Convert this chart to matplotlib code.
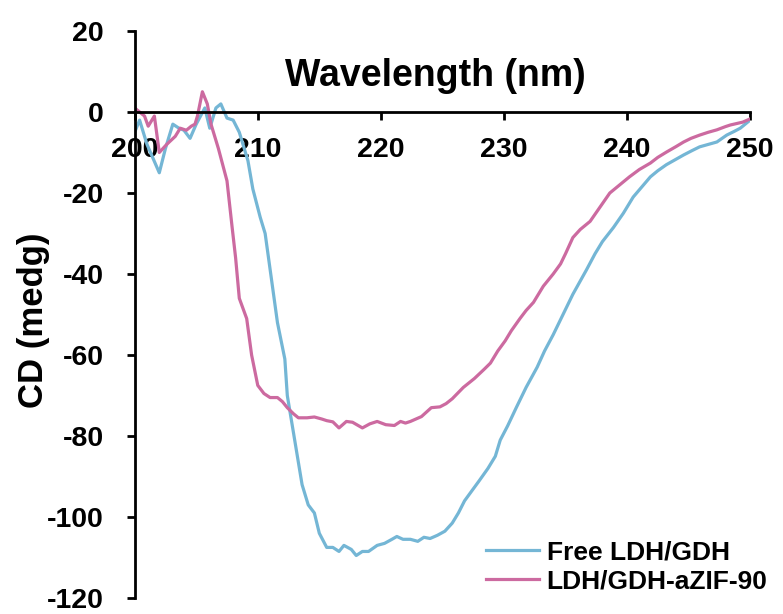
import matplotlib.pyplot as plt

plt.rcParams['font.family'] = ['Liberation Sans', 'DejaVu Sans']
plt.rcParams['font.weight'] = 'bold'
plt.rcParams['axes.unicode_minus'] = False

# CD spectrum of free enzymes
wl_free = [200.0, 200.4, 201.0, 202.0, 202.5, 203.1, 203.6, 204.0, 204.5, 205.0,
           205.7, 206.1, 206.6, 207.0, 207.5, 208.0, 208.5, 209.2, 209.6, 210.2,
           210.6, 211.1, 211.6, 212.2, 212.4, 213.0, 213.6, 214.1, 214.6, 215.0,
           215.6, 216.1, 216.6, 217.0, 217.6, 218.0, 218.5, 219.0, 219.7, 220.3,
           220.9, 221.3, 221.8, 222.4, 223.0, 223.5, 224.0, 224.6, 225.2, 225.8,
           226.3, 226.8, 227.4, 228.0, 228.7, 229.3, 229.7, 230.3, 231.0, 231.8,
           232.7, 233.3, 234.0, 234.8, 235.6, 236.7, 237.4, 238.0, 238.9, 239.7,
           240.5, 241.2, 241.9, 242.5, 243.2, 243.9, 244.6, 245.3, 245.9, 246.6,
           247.3, 248.1, 248.7, 249.2, 250.0]
cd_free = [-5, -2, -8, -15, -9, -3, -4, -4.5, -6.5, -3,
           1, -4, 1, 2, -1.5, -2, -5, -12, -19, -26,
           -30, -41, -52, -61, -70, -81, -92, -97, -99, -104,
           -107.5, -107.5, -108.5, -107, -108, -109.5, -108.5, -108.5, -107, -106.5,
           -105.5, -104.8, -105.5, -105.5, -106, -105, -105.3, -104.5, -103.5, -101.5,
           -99, -96, -93.5, -91, -88, -85, -81, -77.5, -73, -68,
           -63, -59, -55, -50, -45, -39, -35, -32, -28.5, -25,
           -21, -18.5, -16, -14.5, -13, -11.8, -10.6, -9.5, -8.6, -8,
           -7.4, -5.7, -4.8, -4, -2]

# CD spectrum of enzymes in aZIF-90
wl_zif = [200.0, 200.8, 201.1, 201.6, 202.0, 202.6, 203.3, 203.7, 204.2, 204.6,
          204.9, 205.1, 205.5, 205.9, 206.2, 206.8, 207.5, 207.9, 208.2, 208.5,
          209.1, 209.5, 210.0, 210.5, 211.0, 211.6, 212.0, 212.4, 212.9, 213.3,
          214.0, 214.6, 215.2, 215.6, 216.1, 216.6, 217.2, 217.7, 218.5, 219.1,
          219.7, 220.4, 221.1, 221.6, 222.0, 222.4, 223.3, 224.1, 224.8, 225.3,
          225.8, 226.7, 227.6, 228.4, 228.9, 229.5, 230.1, 230.6, 231.3, 231.8,
          232.4, 233.2, 234.0, 234.6, 235.0, 235.6, 236.2, 237.0, 237.8, 238.6,
          239.4, 240.2, 241.0, 241.9, 242.5, 243.2, 244.0, 244.6, 245.2, 245.9,
          246.6, 247.3, 248.0, 248.4, 249.4, 250.0]
cd_zif = [1, -1, -3.5, -1, -10, -8, -6, -4, -4.5, -3.5,
          -3, -1, 5, 2, -3, -9, -17, -28, -36, -46,
          -51, -60, -67.5, -69.5, -70.5, -70.5, -71.5, -73, -74.5, -75.5,
          -75.5, -75.3, -75.8, -76.2, -76.5, -78, -76.4, -76.6, -78, -77,
          -76.4, -77.2, -77.4, -76.4, -76.8, -76.4, -75.2, -73, -72.8, -72,
          -70.8, -68, -65.8, -63.5, -62, -59, -56.5, -54, -51, -49,
          -47, -43, -40, -37.5, -35, -31, -29, -27, -23.5, -20,
          -18, -16, -14.2, -12.6, -11.2, -9.9, -8.5, -7.4, -6.5, -5.7,
          -5, -4.4, -3.6, -3.2, -2.5, -1.7]

fig = plt.figure(figsize=(7.83, 6.14), dpi=100)
ax = fig.add_axes([0.172, 0.026, 0.786, 0.9235])

ax.plot(wl_free, cd_free, color='#74b6d5', lw=2.3, label='Free LDH/GDH')
ax.plot(wl_zif, cd_zif, color='#cc6aa0', lw=2.3, label='LDH/GDH-aZIF-90')

ax.set_xlim(200, 250)
ax.set_ylim(-120, 20)
ax.set_xticks(range(200, 251, 10))
ax.set_yticks(range(-120, 21, 20))

# x axis crosses at CD = 0
ax.spines['bottom'].set_position(('data', 0))
ax.spines['top'].set_visible(False)
ax.spines['right'].set_visible(False)
for s in ('left', 'bottom'):
    ax.spines[s].set_linewidth(2)

ax.tick_params(axis='both', direction='out', length=6, width=2, labelsize=20.5)
ax.tick_params(axis='x', pad=12)
ax.tick_params(axis='y', pad=16)

ax.text(0.488, 0.92, 'Wavelength (nm)', transform=ax.transAxes,
        ha='center', va='center', fontsize=27, fontweight='bold')
ax.set_ylabel('CD (medg)', fontsize=25, fontweight='bold')
ax.yaxis.set_label_coords(-0.138, 0.49)

ax.legend(loc='upper left', bbox_to_anchor=(486 / 783, 1 - 540 / 614),
          bbox_transform=fig.transFigure, frameon=False, fontsize=19,
          handlelength=2.0, handletextpad=0.3, labelspacing=0.2,
          borderpad=0, borderaxespad=0)

fig.savefig('out.png', dpi=100)
